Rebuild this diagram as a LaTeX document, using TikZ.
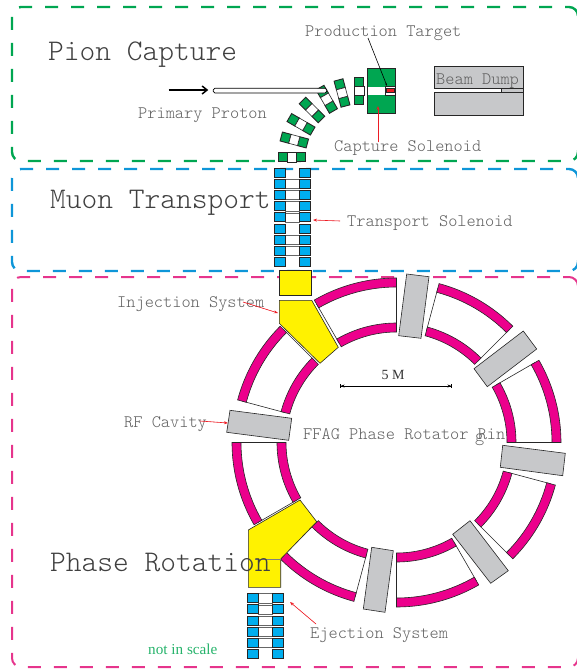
\documentclass[tikz,border=0pt]{standalone}
\usepackage{fontspec}
\newfontfamily\lab{Latin Modern Mono Light}
\setmainfont{Liberation Serif}
\usetikzlibrary{arrows.meta}
\definecolor{cgreen}{HTML}{00A651}
\definecolor{cblue}{HTML}{00AEEF}
\definecolor{cmag}{HTML}{EC008C}
\definecolor{cyel}{HTML}{FFF200}
\definecolor{cgray}{HTML}{C7C8CA}
\definecolor{cred}{HTML}{ED1C24}
\definecolor{dgreen}{HTML}{00A651}
\definecolor{dblue}{HTML}{0E96D8}
\definecolor{dmag}{HTML}{E6358C}
\definecolor{ctxt}{HTML}{606060}
\tikzset{
  frame/.style={line width=2.4pt,dash pattern=on 13pt off 13pt,dash phase=13pt,rounded corners=9pt},
  framecap/.style={line width=2.4pt,rounded corners=9pt},
  big/.style={font=\lab\fontsize{30}{30}\selectfont,text=black!75,anchor=base west,inner sep=0pt},
  small/.style={font=\lab\fontsize{17.5}{17.5}\selectfont,text=ctxt,anchor=base west,inner sep=0pt},
  part/.style={draw=black!85,line width=.6pt},
  blk/.style={part,line width=.9pt},
  leader/.style={line width=.6pt,draw=cred,fill=cred,-{Stealth[length=4pt,width=3pt]}},
}
\newcommand{\coilrow}[5]{%
  \begin{scope}[shift={(#1,#2)},rotate=-#3]
    \ifnum#5=1 \draw[part,fill=white,draw=black!60] (-7,-4.6) rectangle (7,4.6);\fi
    #4
  \end{scope}}
\newcommand{\greenrow}[3]{\coilrow{#1}{#2}{#3}{%
  \draw[blk,fill=cgreen] (-13.5,-4.6) rectangle (-4.5,4.6);
  \draw[blk,fill=cgreen] (4.5,-4.6) rectangle (13.5,4.6);
  \draw[part,fill=white] (-4.5,-4.6) rectangle (4.5,4.6);}{0}}
\newcommand{\bluerow}[3]{\coilrow{#1}{#2}{0}{%
  \draw[blk,fill=cblue] (-18.2,-4.5) rectangle (-6.8,4.5);
  \draw[blk,fill=cblue] (6.8,-4.5) rectangle (18.2,4.5);}{#3}}
\newcommand{\sector}[2]{%
  \draw[line width=.6pt,draw=black!85]
    ({396.5+160*cos(#1)},{442.5-160*sin(#1)}) -- ({396.5+115*cos(#1)},{442.5-115*sin(#1)})
    ({396.5+160*cos(#2)},{442.5-160*sin(#2)}) -- ({396.5+115*cos(#2)},{442.5-115*sin(#2)});
  \foreach \ra/\rb in {155.5/164.5,110.5/119.5}{
    \draw[line width=.6pt,draw=black!85,fill=cmag]
      plot[domain=#1:#2,samples=25] ({396.5+\rb*cos(\x)},{442.5-\rb*sin(\x)})
      -- plot[domain=#2:#1,samples=25] ({396.5+\ra*cos(\x)},{442.5-\ra*sin(\x)}) -- cycle;
  }}
\begin{document}
\begin{tikzpicture}[x=1pt,y=-1pt]
\useasboundingbox (0,0) rectangle (577,670);
% frames
\draw[frame,draw=dgreen] (565,7) -- (12,7) -- (12,161) -- (578,161) -- (578,150);
\draw[framecap,draw=dgreen] (565,7) -- (578,7) -- (578,12);
\draw[frame,draw=dblue] (566,169) -- (12,169) -- (12,271) -- (578,271) -- (578,260);
\draw[framecap,draw=dblue] (566,169) -- (578,169) -- (578,174);
\draw[frame,draw=dmag,line width=2pt] (563,277) -- (12,277) -- (12,667) -- (578,667) -- (578,655);
\draw[framecap,draw=dmag,line width=2pt] (563,277) -- (578,277) -- (578,282);
% ring
\foreach \a/\b in {90/120,45/75,0/30,-45/-15,-90/-60,-135/-105,-180/-150,135/165}{\sector{\a}{\b}}
% gray
\draw[part,fill=cgray] (406.7,274) -- (429,276.7) -- (421,338.3) -- (398.7,335.7) -- cycle;
\draw[part,fill=cgray] (523.3,331) -- (536.7,349) -- (487.3,386.7) -- (474,368.7) -- cycle;
\draw[part,fill=cgray] (502.7,445.3) -- (565.3,453.3) -- (562.7,475.7) -- (500.3,467.3) -- cycle;
\draw[part,fill=cgray] (470,520.7) -- (508.3,570.7) -- (490.7,583.3) -- (452.7,534.3) -- cycle;
\draw[part,fill=cgray] (371.7,547.3) -- (393.3,550.7) -- (385,612.3) -- (363.3,609) -- cycle;
\draw[part,fill=cgray] (230,410.3) -- (291.7,418.3) -- (288.7,440.3) -- (226.7,432.3) -- cycle;
% yellow
\draw[blk,fill=cyel] (279.3,270) rectangle (311.7,295.3);
\draw[part,fill=cyel] (279.3,300.3) -- (311.7,300.3) -- (338.3,347.3) -- (320,363.3) -- (279.3,323.3) -- cycle;
\draw[part,fill=cyel] (248.3,530) -- (300,500) -- (316.7,521.7) -- (280.7,559) -- (280.7,587.3) -- (248.3,587.3) -- cycle;
\coordinate (ya) at (255,559);
\coordinate (yb) at (281,559);
\draw[line width=.7pt,draw=black!50] (ya) -- (yb);
% stacks
\foreach \i/\c in {0/0,1/1,2/1,3/1,4/1,5/0,6/1,7/1,8/0}{\bluerow{292.5}{172.8+11.15*\i}{\c}}
\foreach \i/\c in {0/1,1/1,2/1,3/1,4/1,5/0}{\bluerow{265.3}{598.2+11.2*\i}{\c}}
% curved coils
\foreach \x/\y/\r in {292/157.3/0,294.3/140/15,301/124.3/30,312/110/45,326.7/99.3/60,342/93/75,359.3/90.7/90}{\greenrow{\x}{\y}{\r}}
% tube
\draw[line width=.7pt,fill=white,rounded corners=1.5pt] (213.3,88.3) rectangle (326.7,93);
\node[inner sep=0] (protonfrom) at (168,90) {};
\node[inner sep=0] (protonto) at (209,90) {};
\draw[line width=1.5pt,-{Straight Barb[length=5pt,width=8pt]}] (protonfrom) -- (protonto);
% capture solenoid
\draw[blk,fill=cgreen] (367.7,68.3) rectangle (395,113.3);
\fill[white] (367.7,86.7) rectangle (385.7,95);
\draw[part,fill=white] (385.7,86.7) rectangle (395,95);
\draw[part,fill=cred] (386.7,88.3) rectangle (394.3,92.7);
% beam dump
\draw[blk,fill=cgray] (434.3,66) rectangle (523.3,88.3);
\draw[blk,fill=cgray] (434.3,92.7) rectangle (523.3,115.3);
\draw[part,fill=cgray] (501.7,88.3) rectangle (523.3,92.7);
% labels
\node[big] (lpion) at (48,60) {Pion Capture};
\node[big] (lmuon) at (50,208) {Muon Transport};
\node[big] (lphase) at (50,571) {Phase Rotation};
\node[small] (lprod) at (305,36) {Production Target};
\node[small] (lprim) at (138,118) {Primary Proton};
\node[small] (lcap) at (334,151) {Capture Solenoid};
\node[small] (ltrans) at (347,226) {Transport Solenoid};
\node[small] (linj) at (117,307) {Injection System};
\node[small] (lrf) at (124,427) {RF Cavity};
\node[small] (lffag) at (303,439) {FFAG Phase Rotator Rin};
\node[small] (lffagg) at (475,441) {g};
\node[small] (leje) at (310,638) {Ejection System};
\node[small] (ldump) at (436,84) {Beam Dump};
\node[font=\fontsize{14}{14}\selectfont,anchor=base,text=black!80] (lfive) at (393,379) {5 M};
\node[font=\fontsize{15.2}{15.2}\selectfont,text=cgreen!85!white,anchor=base west,inner sep=0] (lnot) at (148,654) {not in scale};
% leaders
\coordinate (tgt) at (387,86);
\coordinate (prodfrom) at (368,38);
\draw[line width=.6pt,-{Stealth[length=3pt,width=2pt]}] (prodfrom) -- (tgt);
\coordinate (capfrom) at (378,142);
\coordinate (capto) at (378,106);
\draw[leader] (capfrom) -- (capto);
\coordinate (trfrom) at (340,221);
\coordinate (trto) at (313,220);
\draw[leader] (trfrom) -- (trto);
\coordinate (injfrom) at (243,302);
\coordinate (injto) at (278,313);
\draw[leader] (injfrom) -- (injto);
\coordinate (rffrom) at (200,421);
\coordinate (rfto) at (228,423);
\draw[leader] (rffrom) -- (rfto);
\coordinate (ejfrom) at (316,624);
\coordinate (ejto) at (290,602);
\draw[leader] (ejfrom) -- (ejto);
\coordinate (d1) at (340,386);
\coordinate (d2) at (452,386);
\draw[line width=.6pt,{Bar[width=4pt]Stealth[length=4pt,width=3pt]}-{Stealth[length=4pt,width=3pt]Bar[width=4pt]}] (d1) -- (d2);
\end{tikzpicture}
\end{document}
